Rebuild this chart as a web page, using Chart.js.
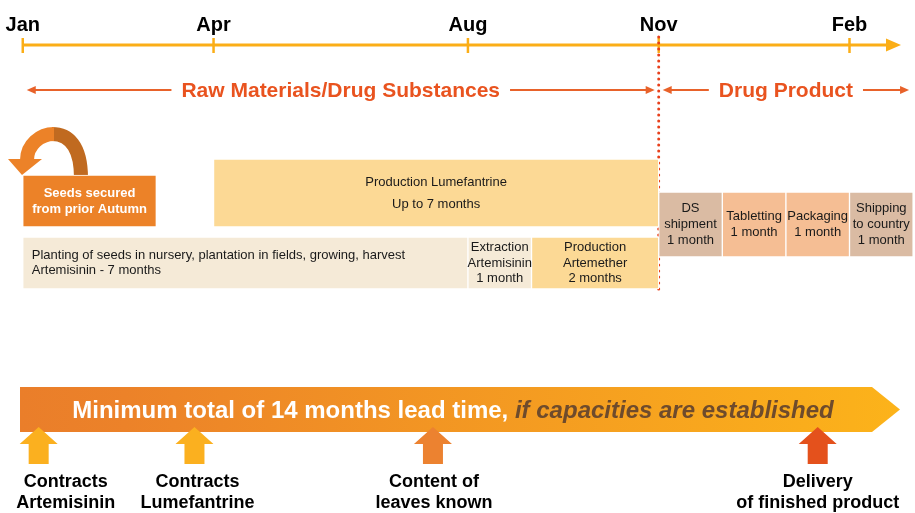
<!DOCTYPE html>
<html>
<head>
<meta charset="utf-8">
<script src="https://cdn.jsdelivr.net/npm/chart.js@4.4.1/dist/chart.umd.min.js"></script>
<style>
html, body { margin: 0; padding: 0; background: #fff; }
canvas { display: block; }
</style>
</head>
<body>
<canvas id="myChart" width="915" height="513"></canvas>
<script>
// months counted from Jan of the first year
var monthLabels = ["Jan", "Apr", "Aug", "Nov", "Feb"];
var monthValues = [0, 3, 7, 10, 13];

var taskLines = [
    ["Seeds secured", "from prior Autumn"],
    ["Production Lumefantrine", "Up to 7 months"],
    ["Planting of seeds in nursery, plantation in fields, growing, harvest", "Artemisinin - 7 months"],
    ["Extraction", "Artemisinin", "1 month"],
    ["Production", "Artemether", "2 months"],
    ["DS", "shipment", "1 month"],
    ["Tabletting", "1 month"],
    ["Packaging", "1 month"],
    ["Shipping", "to country", "1 month"]
];
var taskStart = [0, 3, 0, 7, 8, 10, 11, 12, 13];
var taskEnd = [2.1, 10, 7, 8, 10, 11, 12, 13, 14];
var taskLane = ["seeds", "upper", "lower", "lower", "lower", "drug", "drug", "drug", "drug"];

var phaseNames = ["Raw Materials/Drug Substances", "Drug Product"];
var phaseStart = [0, 10];
var phaseEnd = [10, 14];

var milestoneLines = [
    ["Contracts", "Artemisinin"],
    ["Contracts", "Lumefantrine"],
    ["Content of", "leaves known"],
    ["Delivery", "of finished product"]
];
var milestoneMonth = [0.25, 2.7, 6.45, 12.5];

var leadTimeText = "Minimum total of 14 months lead time, ";
var leadTimeNote = "if capacities are established";

// ---- layout and styles ----
var font = "'Liberation Sans', Arial, sans-serif";
var xFrom = -0.358, xTo = 14.03;
var lanes = {
    seeds: { y: 201, h: 52, lineH: 16 },
    upper: { y: 193, h: 68, lineH: 22 },
    lower: { y: 263, h: 52, lineH: 15.5 },
    drug: { y: 224.5, h: 65, lineH: 16 }
};
var taskColors = ["#EC8228", "#FCD995", "#F5EAD7", "#F5EAD7", "#FCD995", "#DABBA3", "#F5BE94", "#F5BE94", "#DABBA3"];
var milestoneColors = ["#FBB01F", "#FBB01F", "#EC8230", "#E4511C"];
var milestoneLabelShift = [27, 3, 1, 0];

var laneNames = ["seeds", "upper", "lower", "drug"];
var datasets = laneNames.map(function(name){
    var pts = [], cols = [];
    for (var i = 0; i < taskLane.length; i++) {
        if (taskLane[i] == name) {
            pts.push({ x: [taskStart[i], taskEnd[i]], y: lanes[name].y, task: i });
            cols.push(taskColors[i]);
        }
    }
    return {
        data: pts,
        backgroundColor: cols,
        borderColor: "#ffffff",
        borderWidth: 1,
        borderSkipped: false,
        barThickness: lanes[name].h,
        grouped: false
    };
});

function arrowHead(ctx, tipX, tipY, dir, len, half) {
    ctx.beginPath();
    ctx.moveTo(tipX, tipY);
    ctx.lineTo(tipX - dir * len, tipY - half);
    ctx.lineTo(tipX - dir * len, tipY + half);
    ctx.closePath();
    ctx.fill();
}

var roadmapPlugin = {
    id: "roadmap",
    beforeDatasetsDraw: function(chart) {
        var ctx = chart.ctx;
        var xs = chart.scales.x;
        ctx.save();

        // time line
        var lineY = 45;
        ctx.strokeStyle = "#FBAE17";
        ctx.fillStyle = "#FBAE17";
        ctx.lineWidth = 3;
        ctx.beginPath();
        ctx.moveTo(xs.getPixelForValue(monthValues[0]), lineY);
        ctx.lineTo(889, lineY);
        ctx.stroke();
        arrowHead(ctx, 901, lineY, 1, 15, 6.5);
        ctx.lineWidth = 2.5;
        ctx.textAlign = "center";
        ctx.textBaseline = "alphabetic";
        ctx.font = "bold 20px " + font;
        for (var i = 0; i < monthValues.length; i++) {
            var p = xs.getPixelForValue(monthValues[i]);
            ctx.beginPath();
            ctx.moveTo(p, 38);
            ctx.lineTo(p, 53);
            ctx.stroke();
            ctx.fillStyle = "#000";
            ctx.fillText(monthLabels[i], p, 31);
        }

        // dotted split at Nov
        var splitX = xs.getPixelForValue(phaseStart[1]);
        ctx.fillStyle = "#E8401C";
        for (var dy = 37; dy <= 292; dy += 6) {
            ctx.beginPath();
            ctx.arc(splitX, dy, 1.5, 0, Math.PI * 2);
            ctx.fill();
        }

        // phase headers
        ctx.font = "bold 21px " + font;
        for (var k = 0; k < phaseNames.length; k++) {
            var a = xs.getPixelForValue(phaseStart[k]) + 4;
            var b = xs.getPixelForValue(phaseEnd[k]) - 4;
            var mid = (a + b) / 2;
            var w = ctx.measureText(phaseNames[k]).width / 2 + 10;
            ctx.strokeStyle = "#E8622A";
            ctx.fillStyle = "#E8622A";
            ctx.lineWidth = 2;
            ctx.beginPath();
            ctx.moveTo(a + 6, 90); ctx.lineTo(mid - w, 90);
            ctx.moveTo(mid + w, 90); ctx.lineTo(b - 6, 90);
            ctx.stroke();
            arrowHead(ctx, a, 90, -1, 9, 4);
            arrowHead(ctx, b, 90, 1, 9, 4);
            ctx.fillStyle = "#E9531F";
            ctx.fillText(phaseNames[k], mid, 97);
        }

        // curved arrow over the seeds box
        ctx.lineWidth = 14;
        ctx.lineCap = "butt";
        ctx.strokeStyle = "#C06A20";
        ctx.beginPath();
        ctx.moveTo(81, 178);
        ctx.bezierCurveTo(81, 145, 68, 134, 52, 134);
        ctx.stroke();
        ctx.strokeStyle = "#EC8228";
        ctx.beginPath();
        ctx.moveTo(54, 134);
        ctx.bezierCurveTo(40, 134, 27, 145, 27, 160);
        ctx.stroke();
        ctx.fillStyle = "#EC8228";
        ctx.beginPath();
        ctx.moveTo(8, 159);
        ctx.lineTo(42, 159);
        ctx.lineTo(22, 175);
        ctx.closePath();
        ctx.fill();

        ctx.restore();
    },
    afterDatasetsDraw: function(chart) {
        var ctx = chart.ctx;
        var xs = chart.scales.x;
        ctx.save();

        // labels inside the task boxes
        chart.data.datasets.forEach(function(ds, d){
            var meta = chart.getDatasetMeta(d);
            meta.data.forEach(function(el, j){
                var t = ds.data[j].task;
                var lines = taskLines[t];
                var lh = lanes[taskLane[t]].lineH;
                var left = Math.min(el.x, el.base), right = Math.max(el.x, el.base);
                var y0 = el.y - (lines.length - 1) * lh / 2;
                ctx.textBaseline = "middle";
                if (t == 0) {
                    ctx.font = "bold 13px " + font;
                    ctx.fillStyle = "#fff";
                } else {
                    ctx.font = "13px " + font;
                    ctx.fillStyle = "#1a1a1a";
                }
                for (var n = 0; n < lines.length; n++) {
                    if (t == 2) {
                        ctx.textAlign = "left";
                        ctx.fillText(lines[n], left + 9, y0 + n * lh);
                    } else {
                        ctx.textAlign = "center";
                        ctx.fillText(lines[n], (left + right) / 2, y0 + n * lh);
                    }
                }
            });
        });

        // lead time arrow
        var top = 387, bot = 432, tipX = 900, neck = 872;
        var grad = ctx.createLinearGradient(20, 0, tipX, 0);
        grad.addColorStop(0, "#EA7E2A");
        grad.addColorStop(0.12, "#EC8229");
        grad.addColorStop(1, "#FCB31A");
        ctx.fillStyle = grad;
        ctx.beginPath();
        ctx.moveTo(20, top);
        ctx.lineTo(neck, top);
        ctx.lineTo(tipX, (top + bot) / 2);
        ctx.lineTo(neck, bot);
        ctx.lineTo(20, bot);
        ctx.closePath();
        ctx.fill();

        ctx.textBaseline = "alphabetic";
        ctx.textAlign = "left";
        ctx.font = "bold 24px " + font;
        var w1 = ctx.measureText(leadTimeText).width;
        ctx.font = "italic bold 24px " + font;
        var w2 = ctx.measureText(leadTimeNote).width;
        var sx = 453 - (w1 + w2) / 2;
        ctx.font = "bold 24px " + font;
        ctx.fillStyle = "#fff";
        ctx.fillText(leadTimeText, sx, 418);
        ctx.font = "italic bold 24px " + font;
        ctx.fillStyle = "#6E4B2C";
        ctx.fillText(leadTimeNote, sx + w1, 418);

        // milestones
        ctx.textAlign = "center";
        ctx.font = "bold 18px " + font;
        for (var m = 0; m < milestoneMonth.length; m++) {
            var cx = xs.getPixelForValue(milestoneMonth[m]);
            ctx.fillStyle = milestoneColors[m];
            ctx.beginPath();
            ctx.moveTo(cx, 427);
            ctx.lineTo(cx + 19, 444);
            ctx.lineTo(cx + 10, 444);
            ctx.lineTo(cx + 10, 464);
            ctx.lineTo(cx - 10, 464);
            ctx.lineTo(cx - 10, 444);
            ctx.lineTo(cx - 19, 444);
            ctx.closePath();
            ctx.fill();
            ctx.fillStyle = "#000";
            ctx.fillText(milestoneLines[m][0], cx + milestoneLabelShift[m], 487);
            ctx.fillText(milestoneLines[m][1], cx + milestoneLabelShift[m], 508);
        }

        ctx.restore();
    }
};

var ctx = document.getElementById("myChart").getContext("2d");

var myChart = new Chart(ctx, {
    type: "bar",
    data: { datasets: datasets },
    options: {
        indexAxis: "y",
        responsive: false,
        animation: false,
        devicePixelRatio: 1,
        events: [],
        layout: { padding: 0 },
        plugins: { legend: { display: false }, tooltip: { enabled: false } },
        scales: {
            x: { type: "linear", min: xFrom, max: xTo, offset: false, display: false },
            y: { type: "linear", min: 0, max: 513, reverse: true, offset: false, display: false }
        }
    },
    plugins: [roadmapPlugin]
});
</script>
</body>
</html>
